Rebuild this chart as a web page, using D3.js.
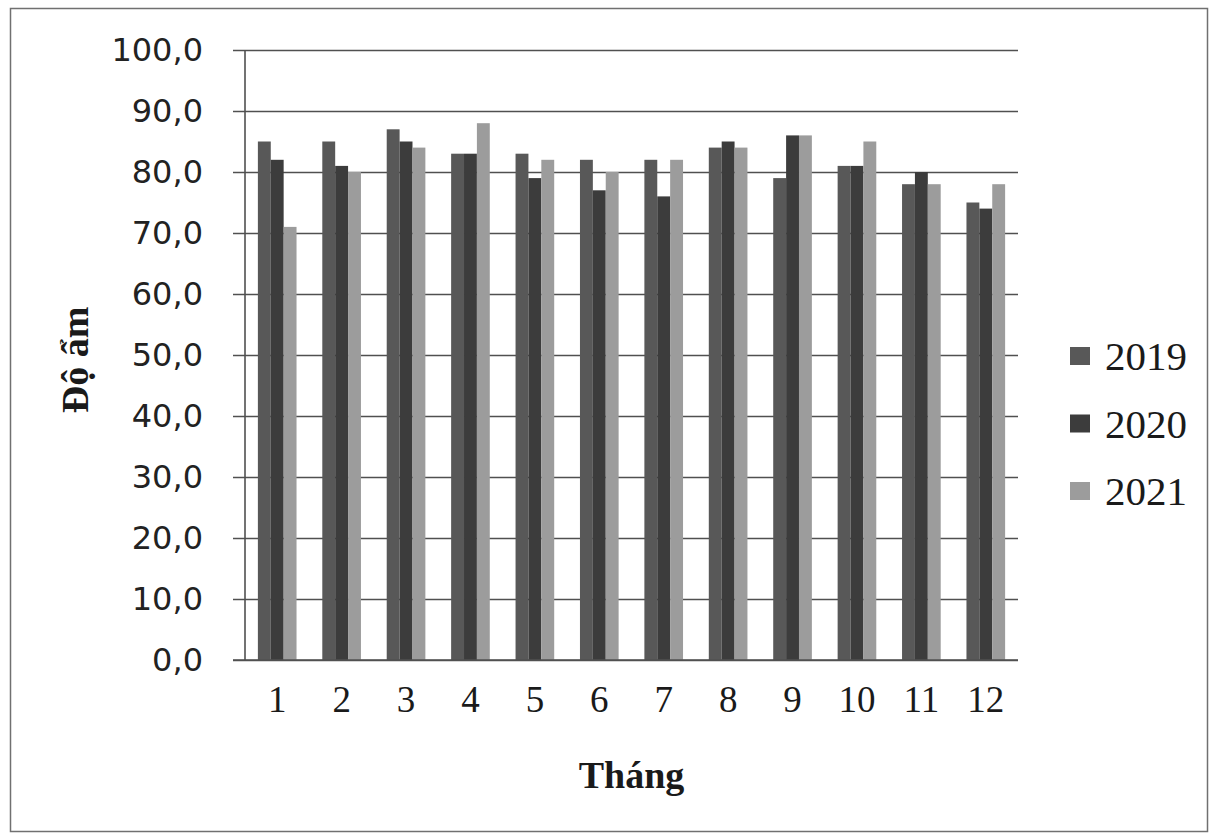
<!DOCTYPE html>
<html>
<head>
<meta charset="utf-8">
<script src="https://cdn.jsdelivr.net/npm/d3@7"></script>
<style>
  html, body { margin: 0; padding: 0; background: #fff; }
  svg { display: block; }
</style>
</head>
<body>
<svg id="chart" width="1214" height="837"></svg>
<script>
// Monthly humidity (%), three years
const months = ["1", "2", "3", "4", "5", "6", "7", "8", "9", "10", "11", "12"];
const years = ["2019", "2020", "2021"];
const values2019 = [85, 85, 87, 83, 83, 82, 82, 84, 79, 81, 78, 75];
const values2020 = [82, 81, 85, 83, 79, 77, 76, 85, 86, 81, 80, 74];
const values2021 = [71, 80, 84, 88, 82, 80, 82, 84, 86, 85, 78, 78];
const yTicks = [0, 10, 20, 30, 40, 50, 60, 70, 80, 90, 100];
const seriesColors = ["#585858", "#3c3c3c", "#9c9c9c"];

const series = [values2019, values2020, values2021];

const svg = d3.select("#chart");

// outer frame
svg.append("rect")
  .attr("x", 10.5).attr("y", 8.5)
  .attr("width", 1197).attr("height", 823)
  .attr("fill", "#fff")
  .attr("stroke", "#707070").attr("stroke-width", 1.5);

const plot = { left: 245, right: 1018, top: 50, bottom: 660 };

const x = d3.scaleBand()
  .domain(months)
  .range([plot.left, plot.right])
  .paddingInner(0.4)
  .paddingOuter(0.2);

const xs = d3.scaleBand()
  .domain(years)
  .range([0, x.bandwidth()])
  .padding(0);

const y = d3.scaleLinear()
  .domain([0, 100])
  .range([plot.bottom, plot.top]);

const fmt = v => d3.format(".1f")(v).replace(".", ",");

// horizontal gridlines with outward ticks
const yAxis = d3.axisLeft(y)
  .tickValues(yTicks)
  .tickFormat(fmt)
  .tickSize(-(plot.right - plot.left))
  .tickPadding(42);

const gy = svg.append("g")
  .attr("transform", `translate(${plot.left},0)`)
  .call(yAxis);
gy.select(".domain").remove();
gy.selectAll(".tick line")
  .attr("x1", -12)
  .attr("stroke", "#505050")
  .attr("stroke-width", 1.6);
gy.selectAll(".tick text")
  .attr("font-family", "'DejaVu Sans', Verdana, sans-serif")
  .attr("font-size", 32)
  .attr("fill", "#222");

// bars
const groups = svg.append("g")
  .selectAll("g")
  .data(months)
  .join("g")
  .attr("transform", d => `translate(${x(d)},0)`);

groups.selectAll("rect")
  .data((m, i) => years.map((yr, k) => ({ yr, k, v: series[k][i] })))
  .join("rect")
  .attr("x", d => xs(d.yr))
  .attr("y", d => y(d.v))
  .attr("width", xs.bandwidth())
  .attr("height", d => y(0) - y(d.v))
  .attr("fill", d => seriesColors[d.k]);

// vertical axis line
svg.append("line")
  .attr("x1", plot.left).attr("x2", plot.left)
  .attr("y1", plot.top).attr("y2", plot.bottom)
  .attr("stroke", "#505050").attr("stroke-width", 1.6);

// category axis
const xAxis = d3.axisBottom(x).tickSize(0).tickPadding(26);
const gx = svg.append("g")
  .attr("transform", `translate(0,${plot.bottom})`)
  .call(xAxis);
gx.select(".domain")
  .attr("d", `M${plot.left - 12},0H${plot.right}`)
  .attr("stroke", "#505050").attr("stroke-width", 1.6);
gx.selectAll(".tick text")
  .attr("font-family", "'Liberation Serif', 'Times New Roman', serif")
  .attr("font-size", 37)
  .attr("fill", "#1a1a1a");

// axis titles
svg.append("text")
  .attr("x", (plot.left + plot.right) / 2)
  .attr("y", 788)
  .attr("text-anchor", "middle")
  .attr("font-family", "'Liberation Serif', 'Times New Roman', serif")
  .attr("font-weight", "bold")
  .attr("font-size", 38)
  .attr("fill", "#1a1a1a")
  .text("Tháng");

svg.append("text")
  .attr("transform", `translate(88,${(plot.top + plot.bottom) / 2 + 5}) rotate(-90)`)
  .attr("text-anchor", "middle")
  .attr("font-family", "'Liberation Serif', 'Times New Roman', serif")
  .attr("font-weight", "bold")
  .attr("font-size", 38)
  .attr("fill", "#1a1a1a")
  .text("Độ ẩm");

// legend
const legend = svg.append("g").attr("transform", "translate(1070,356)");
const li = legend.selectAll("g")
  .data(years)
  .join("g")
  .attr("transform", (d, i) => `translate(0,${i * 67.5})`);
li.append("rect")
  .attr("x", 0).attr("y", -9)
  .attr("width", 20).attr("height", 18)
  .attr("fill", (d, i) => seriesColors[i]);
li.append("text")
  .attr("x", 35).attr("y", 14)
  .attr("font-family", "'Liberation Serif', 'Times New Roman', serif")
  .attr("font-size", 41)
  .attr("fill", "#1a1a1a")
  .text(d => d);
</script>
</body>
</html>
